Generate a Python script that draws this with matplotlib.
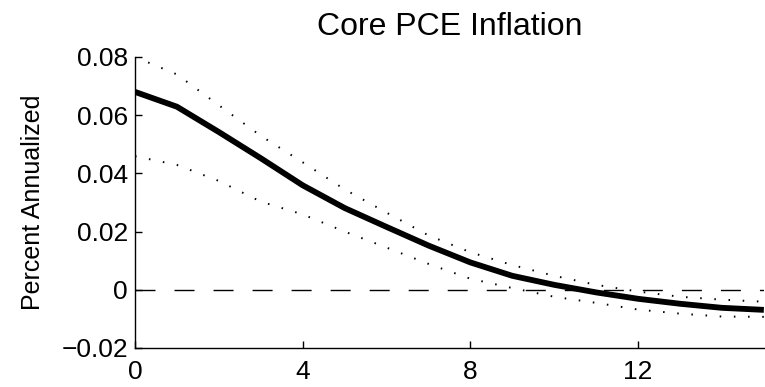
import matplotlib
matplotlib.use("Agg")
import matplotlib.pyplot as plt
import numpy as np

plt.rcParams['font.family'] = ['Liberation Sans', 'DejaVu Sans']

horizon = np.arange(16)
median = [0.068, 0.0629, 0.0542, 0.0452, 0.0359, 0.0281, 0.0216, 0.0152,
          0.0094, 0.0048, 0.0017, -0.0009, -0.0031, -0.0048, -0.0062, -0.0069]
upper = [0.080, 0.0740, 0.0634, 0.0529, 0.0438, 0.0345, 0.0265, 0.0187,
         0.0129, 0.0085, 0.0048, 0.0017, -0.0006, -0.0024, -0.0034, -0.0041]
lower = [0.0459, 0.0429, 0.0374, 0.0303, 0.0259, 0.0200, 0.0145, 0.0089,
         0.0038, 0.0006, -0.0024, -0.0045, -0.0068, -0.0082, -0.0092, -0.0093]

fig = plt.figure(figsize=(7.65, 3.87), dpi=100)
ax = fig.add_axes([0.1765, 0.1008, 0.822, 0.752])

ax.plot([0, 15], [0, 0], color='black', lw=1.0, dashes=(14.4, 13.7))
ax.plot(horizon, upper, color='black', lw=1.4, dashes=(0.8, 6.5))
ax.plot(horizon, lower, color='black', lw=1.4, dashes=(0.8, 6.5))
ax.plot(horizon, median, color='black', lw=4.2, solid_capstyle='butt')

ax.set_xlim(0, 15)
ax.set_ylim(-0.02, 0.08)
ax.set_xticks([0, 4, 8, 12])
ax.set_yticks([-0.02, 0, 0.02, 0.04, 0.06, 0.08])
ax.set_yticklabels(['\u22120.02', '0', '0.02', '0.04', '0.06', '0.08'])

ax.spines['top'].set_visible(False)
ax.spines['right'].set_visible(False)
for s in ['left', 'bottom']:
    ax.spines[s].set_linewidth(1.0)
ax.tick_params(direction='in', length=5, width=1.0, labelsize=19, pad=5)
ax.tick_params(axis='x', pad=9)

ax.set_ylabel('Percent Annualized', fontsize=18, labelpad=12)
ax.set_title('Core PCE Inflation', fontsize=23, pad=16)

fig.savefig('out.png', dpi=100)
